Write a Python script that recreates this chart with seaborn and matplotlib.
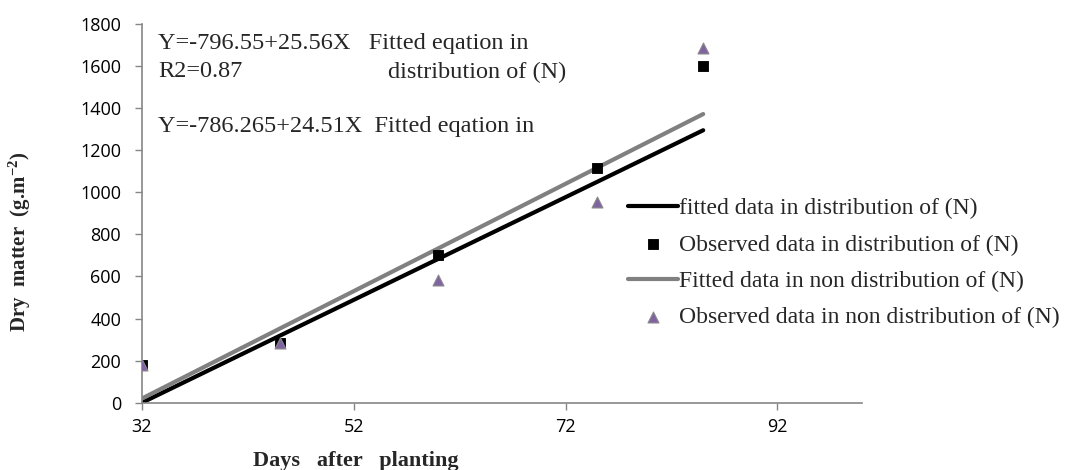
import matplotlib
matplotlib.use("Agg")
import matplotlib.pyplot as plt
import seaborn as sns
import pandas as pd

# Data
days = [32, 45, 60, 75, 85]
obs_dist = [178, 285, 700, 1116, 1600]
obs_nondist = [178, 285, 585, 955, 1686]
fit_dist = [0, 318, 684, 1050, 1295]
fit_nondist = [20, 352, 734, 1117, 1372]

x_ticks = [32, 52, 72, 92]
y_ticks = [0, 200, 400, 600, 800, 1000, 1200, 1400, 1600, 1800]

labels = ["fitted data in distribution of (N)",
          "Observed data in distribution of (N)",
          "Fitted data in non distribution of (N)",
          "Observed data in non distribution of (N)"]

sns.set_style("white")
plt.rcParams['font.family'] = ['Open Sans', 'DejaVu Sans']
plt.rcParams['mathtext.fontset'] = 'custom'
plt.rcParams['mathtext.rm'] = 'Liberation Serif:bold'
plt.rcParams['mathtext.it'] = 'Liberation Serif:bold'
plt.rcParams['mathtext.bf'] = 'Liberation Serif:bold'

fig = plt.figure(figsize=(10.66, 4.70), dpi=100)
ax = fig.add_axes([142 / 1066, 1 - 402.7 / 470, 720 / 1066, 378.7 / 470])

df = pd.DataFrame({"x": days, "od": obs_dist, "on": obs_nondist,
                   "fd": fit_dist, "fn": fit_nondist})

sns.lineplot(data=df, x="x", y="fd", ax=ax, color="black", lw=3, label=labels[0])
sns.scatterplot(data=df, x="x", y="od", ax=ax, marker="s", color="black",
                s=62, edgecolor="black", label=labels[1], zorder=4)
sns.lineplot(data=df, x="x", y="fn", ax=ax, color="#808080", lw=3, label=labels[2])
sns.scatterplot(data=df, x="x", y="on", ax=ax, marker="^", color="#8064a2",
                s=62, edgecolor="#8a8a8a", linewidth=0.8, label=labels[3], zorder=5)

ax.set_xlim(32, 100)
ax.set_ylim(0, 1800)
ax.set_xticks(x_ticks)
ax.set_yticks(y_ticks)
ax.tick_params(axis='both', labelsize=13, colors='#868686', length=5, width=1,
               direction='out', labelcolor='black', bottom=True, left=True)
ax.tick_params(axis='y', pad=10)
ax.tick_params(axis='x', pad=6)
for s in ['top', 'right']:
    ax.spines[s].set_visible(False)
for s in ['left', 'bottom']:
    ax.spines[s].set_color('#868686')
    ax.spines[s].set_linewidth(1.2)

serif = ['Liberation Serif', 'DejaVu Serif']
ax.set_xlabel("Days   after   planting", fontfamily=serif, fontweight='bold', fontsize=16)
ax.set_ylabel("Dry  matter  (g.m$^{-2}$)", fontfamily=serif, fontweight='bold', fontsize=15)
ax.xaxis.set_label_coords((356 - 142) / 720, (402.7 - 451) / 378.7)
ax.yaxis.set_label_coords((33 - 142) / 720, (402.7 - 242) / 378.7)

ax.text(33.5, 1705, "Y=-796.55+25.56X   Fitted eqation in", fontfamily=serif, fontsize=17.5, va='center')
ax.text(33.5, 1572, "R2=0.87", fontfamily=serif, fontsize=17.5, va='center')
ax.text(55.2, 1572, "distribution of (N)", fontfamily=serif, fontsize=17.5, va='center')
ax.text(33.5, 1315, "Y=-786.265+24.51X  Fitted eqation in", fontfamily=serif, fontsize=17.5, va='center')

leg = ax.legend(loc='upper left', bbox_to_anchor=(628 / 1066, 1 - 198 / 470),
                bbox_transform=fig.transFigure, frameon=False,
                prop={'family': serif, 'size': 17}, handlelength=2.1,
                handletextpad=0.08, labelspacing=0.62, borderaxespad=0, borderpad=0)

fig.savefig("out.png", dpi=100)
